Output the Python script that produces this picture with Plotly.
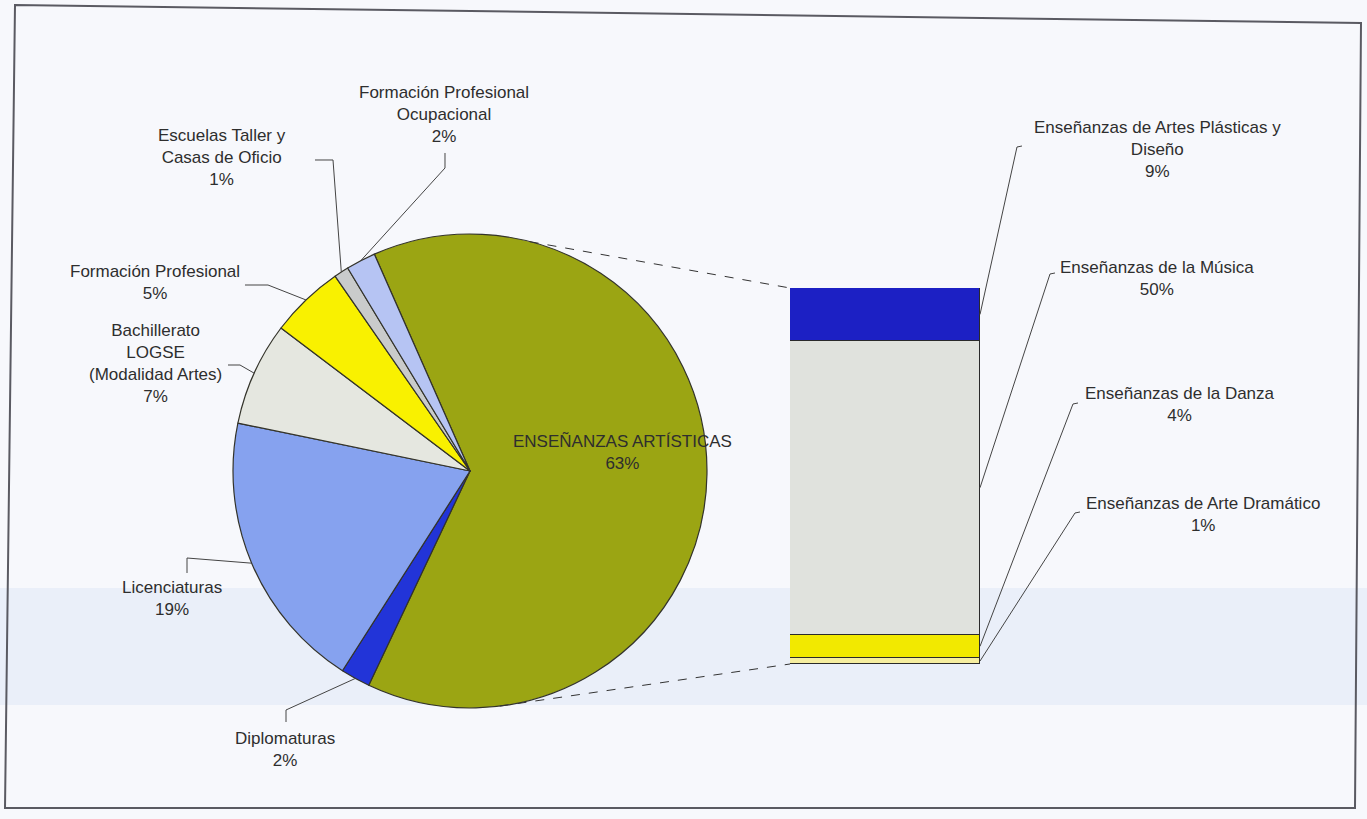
import math
import plotly.graph_objects as go

# ---------------- data ----------------
pie_labels = ["ENSEÑANZAS ARTÍSTICAS", "Diplomaturas", "Licenciaturas",
              "Bachillerato LOGSE (Modalidad Artes)", "Formación Profesional",
              "Escuelas Taller y Casas de Oficio", "Formación Profesional Ocupacional"]
pie_values = [63, 2, 19, 7, 5, 1, 2]
pie_text = ["ENSEÑANZAS ARTÍSTICAS<br>63%", "Diplomaturas<br>2%", "Licenciaturas<br>19%",
            "Bachillerato<br>LOGSE<br>(Modalidad Artes)<br>7%", "Formación Profesional<br>5%",
            "Escuelas Taller y<br>Casas de Oficio<br>1%", "Formación Profesional<br>Ocupacional<br>2%"]
pie_colors = ["#9ba513", "#2234d8", "#86a2ef", "#e5e7e0", "#f9f100", "#c9cbcb", "#b6c4f3"]

bar_labels = ["Enseñanzas de Arte Dramático", "Enseñanzas de la Danza",
              "Enseñanzas de la Música", "Enseñanzas de Artes Plásticas y Diseño"]
bar_values = [1, 4, 50, 9]
bar_text = ["Enseñanzas de Arte Dramático<br>1%", "Enseñanzas de la Danza<br>4%",
            "Enseñanzas de la Música<br>50%", "Enseñanzas de Artes Plásticas y<br>Diseño<br>9%"]
bar_colors = ["#f6eea0", "#f2e900", "#e0e2dd", "#1c20c4"]

# ---------------- layout constants (pixels) ----------------
W, H = 1367, 819
CX, CY, R = 470, 471, 237
ROT = -23.8
BAR_X0, BAR_X1 = 790, 980
BAR_TOP, BAR_BOT = 288, 664
TEXT_COLOR = "#2e2e2e"
FONT = "Liberation Sans, Arial, sans-serif"
FS = 17

# label positions and leader elbows for each pie slice (same order as pie_labels)
pie_label_pos = [(622, 452), (285, 749), (172, 598), (155, 363), (155, 282), (222, 158), (444, 115)]
pie_elbows = [None, [(286, 722), (286, 710)], [(187, 573), (187, 558)], [(228, 365), (240, 365)],
              [(245, 285), (268, 285)], [(315, 160), (333, 160)], [(445, 153), (445, 168)]]
# label positions and leader elbows for bar segments (same order as bar_labels)
bar_label_pos = [(1203, 514), (1180, 404), (1157, 278), (1157, 149)]
bar_elbows = [[(1080, 512), (1075, 513)], [(1078, 403), (1073, 404)],
              [(1055, 273), (1050, 274)], [(1022, 146), (1017, 147)]]
CONN_TOP_ANGLE, CONN_BOT_ANGLE = 14.6, 172.8

total_pie = sum(pie_values)
total_bar = sum(bar_values)


def px(x):
    return x / W


def py(y):
    return 1 - y / H


def pie_point(angle_deg, r=R):
    a = math.radians(angle_deg)
    return CX + r * math.sin(a), CY - r * math.cos(a)


def bar_y(v):
    return BAR_BOT - (BAR_BOT - BAR_TOP) * v / total_bar


def path_of(pts, close=False):
    s = "M " + " L ".join(f"{px(x):.5f} {py(y):.5f}" for x, y in pts)
    return s + (" Z" if close else "")


fig = go.Figure()

fig.add_trace(go.Pie(
    labels=pie_labels, values=pie_values, sort=False, direction="clockwise",
    rotation=ROT, textinfo="none", hoverinfo="label+percent",
    marker=dict(colors=pie_colors, line=dict(color="#33332a", width=1.2)),
    domain=dict(x=[px(CX - R), px(CX + R)], y=[py(CY + R), py(CY - R)]),
    showlegend=False))

for lab, val, col in zip(bar_labels, bar_values, bar_colors):
    fig.add_trace(go.Bar(x=[0], y=[val], name=lab, width=1,
                         marker=dict(color=col, line=dict(color="#2a2a2a", width=1.2)),
                         showlegend=False))

shapes = []
annotations = []

# faint background band (scan bleed-through)
shapes.append(dict(type="rect", xref="paper", yref="paper", x0=0, x1=1, y0=py(705), y1=py(588),
                   fillcolor="rgba(205,218,242,0.3)", line=dict(width=0), layer="below"))
# frame
shapes.append(dict(type="path", xref="paper", yref="paper",
                   path=path_of([(15, 5), (1361, 23), (1355, 808), (5, 808)], close=True),
                   line=dict(color="#5a5a62", width=2), layer="below"))

# pie leaders and labels
cum = 0
for i, v in enumerate(pie_values):
    mid = ROT + (cum + v / 2) / total_pie * 360
    cum += v
    tx, ty = pie_label_pos[i]
    annotations.append(dict(xref="paper", yref="paper", x=px(tx), y=py(ty), text=pie_text[i], showarrow=False,
                            xanchor="center", yanchor="middle", align="center",
                            font=dict(family=FONT, size=FS, color=TEXT_COLOR)))
    if pie_elbows[i]:
        pts = pie_elbows[i] + [pie_point(mid)]
        shapes.append(dict(type="path", xref="paper", yref="paper", path=path_of(pts),
                           line=dict(color="#444444", width=1)))

# bar leaders and labels
cum = 0
for i, v in enumerate(bar_values):
    ymid = bar_y(cum + v / 2)
    cum += v
    tx, ty = bar_label_pos[i]
    annotations.append(dict(xref="paper", yref="paper", x=px(tx), y=py(ty), text=bar_text[i], showarrow=False,
                            xanchor="center", yanchor="middle", align="center",
                            font=dict(family=FONT, size=FS, color=TEXT_COLOR)))
    pts = bar_elbows[i] + [(BAR_X1, ymid)]
    shapes.append(dict(type="path", xref="paper", yref="paper", path=path_of(pts),
                       line=dict(color="#444444", width=1)))

# dashed connectors
tx0, ty0 = pie_point(CONN_TOP_ANGLE)
bx0, by0 = pie_point(CONN_BOT_ANGLE)
shapes.append(dict(type="line", xref="paper", yref="paper", x0=px(tx0), y0=py(ty0),
                   x1=px(BAR_X0), y1=py(bar_y(total_bar)),
                   line=dict(color="#333333", width=1, dash="dash")))
shapes.append(dict(type="line", xref="paper", yref="paper", x0=px(bx0), y0=py(by0),
                   x1=px(BAR_X0), y1=py(bar_y(0)),
                   line=dict(color="#333333", width=1, dash="dash")))

fig.update_layout(
    width=W, height=H, margin=dict(l=0, r=0, t=0, b=0),
    paper_bgcolor="#f7f8fc", plot_bgcolor="rgba(0,0,0,0)",
    barmode="stack", bargap=0,
    xaxis=dict(domain=[px(BAR_X0), px(BAR_X1)], range=[-0.5, 0.5], visible=False, fixedrange=True),
    yaxis=dict(domain=[py(BAR_BOT), py(BAR_TOP)], range=[0, total_bar], visible=False, fixedrange=True),
    shapes=shapes, annotations=annotations,
)

fig.write_html("out.html", config=dict(displayModeBar=False),
               post_script="document.body.style.margin='0';document.body.style.overflow='hidden';")
